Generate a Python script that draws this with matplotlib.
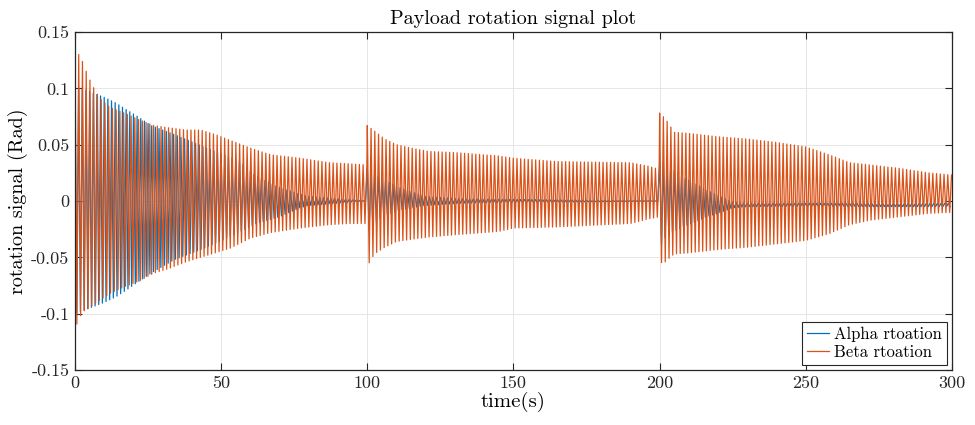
import numpy as np
import matplotlib
matplotlib.use('Agg')
import matplotlib.pyplot as plt

plt.rcParams['font.family'] = 'serif'
plt.rcParams['font.serif'] = ['cmr10']
plt.rcParams['mathtext.fontset'] = 'cm'
plt.rcParams['axes.unicode_minus'] = False

period_alpha = 1.25
period_beta = 1.28

# envelopes, one list per excitation segment
alpha_times = [
    [0, 3, 6, 10, 14, 17, 22, 26, 34, 45, 56, 62, 70, 77, 80, 90, 100],
    [100, 102, 104.5, 111, 120, 132, 200],
    [200, 202, 204, 208, 212, 216, 220, 225, 230, 300],
]
alpha_upper = [
    [0.100, 0.099, 0.096, 0.092, 0.087, 0.082, 0.074, 0.067, 0.059, 0.047, 0.036, 0.022, 0.012, 0.006, 0.004, 0.002, 0.0],
    [0.029, 0.025, 0.021, 0.012, 0.004, 0.002, 0.0],
    [0.035, 0.034, 0.029, 0.021, 0.016, 0.010, 0.005, -0.001, -0.002, -0.002],
]
alpha_lower = [
    [-0.100, -0.097, -0.094, -0.090, -0.085, -0.080, -0.071, -0.064, -0.052, -0.041, -0.028, -0.020, -0.014, -0.006, -0.004, -0.002, 0.0],
    [-0.028, -0.022, -0.015, -0.008, -0.004, -0.002, 0.0],
    [-0.041, -0.032, -0.028, -0.023, -0.019, -0.014, -0.011, -0.006, -0.005, -0.005],
]

beta_times = [
    [0, 1.7, 2.4, 3.4, 4.8, 6.3, 8.5, 12, 17, 22, 27, 32, 38, 43, 48, 53, 60, 67, 77, 87, 94, 100],
    [100, 101, 103, 106, 110, 115, 121, 130, 140, 145, 150, 165, 190, 196, 200],
    [200, 202, 203.5, 205, 210, 220, 230, 240, 250, 258, 265, 272, 282, 292, 300],
]
beta_upper = [
    [0.136, 0.128, 0.125, 0.118, 0.109, 0.101, 0.091, 0.083, 0.078, 0.072, 0.067, 0.065, 0.063, 0.063, 0.059, 0.054, 0.047, 0.041, 0.038, 0.034, 0.033, 0.032],
    [0.067, 0.065, 0.061, 0.055, 0.050, 0.047, 0.044, 0.043, 0.041, 0.040, 0.038, 0.035, 0.034, 0.031, 0.028],
    [0.078, 0.073, 0.067, 0.061, 0.060, 0.057, 0.055, 0.052, 0.048, 0.041, 0.034, 0.032, 0.029, 0.025, 0.023],
]
beta_lower = [
    [-0.113, -0.103, -0.099, -0.097, -0.095, -0.092, -0.088, -0.082, -0.076, -0.071, -0.064, -0.060, -0.054, -0.050, -0.046, -0.042, -0.033, -0.028, -0.024, -0.021, -0.020, -0.020],
    [-0.060, -0.052, -0.046, -0.041, -0.036, -0.034, -0.032, -0.030, -0.028, -0.027, -0.024, -0.023, -0.020, -0.016, -0.014],
    [-0.055, -0.054, -0.050, -0.047, -0.046, -0.043, -0.041, -0.038, -0.035, -0.029, -0.021, -0.017, -0.014, -0.011, -0.010],
]

x_ticks = [0, 50, 100, 150, 200, 250, 300]
y_ticks = [-0.15, -0.1, -0.05, 0, 0.05, 0.1, 0.15]
y_tick_labels = ['-0.15', '-0.1', '-0.05', '0', '0.05', '0.1', '0.15']


def zigzag(times_list, upper_list, lower_list, period):
    # alternate between upper and lower envelope every half period
    ts, ys = [], []
    for times, upper, lower in zip(times_list, upper_list, lower_list):
        t = np.arange(times[0], times[-1], period / 2)
        up = np.interp(t, times, upper)
        lo = np.interp(t, times, lower)
        k = np.arange(len(t))
        ts.append(t)
        ys.append(np.where(k % 2 == 0, up, lo))
    return np.concatenate(ts), np.concatenate(ys)


t_a, y_a = zigzag(alpha_times, alpha_upper, alpha_lower, period_alpha)
t_b, y_b = zigzag(beta_times, beta_upper, beta_lower, period_beta)

fig = plt.figure(figsize=(9.75, 4.25), dpi=100)
ax = fig.add_axes([0.0769, 0.1294, 0.8995, 0.7953])

ax.plot(t_a, y_a, color='#0072BD', lw=0.9, label='Alpha rtoation')
ax.plot(t_b, y_b, color='#D95319', lw=0.9, label='Beta rtoation')

ax.set_xlim(0, 300)
ax.set_ylim(-0.15, 0.15)
ax.set_xticks(x_ticks)
ax.set_xticklabels([str(v) for v in x_ticks])
ax.set_yticks(y_ticks)
ax.set_yticklabels(y_tick_labels)
ax.tick_params(direction='in', top=True, right=True, length=5, width=0.8,
               labelsize=13, colors='#262626', pad=4)
for s in ax.spines.values():
    s.set_color('#262626')
    s.set_linewidth(0.9)
ax.grid(True, color='#e2e2e2', lw=0.6)
ax.set_axisbelow(True)

ax.set_title('Payload rotation signal plot', fontsize=14.5, pad=6)
ax.set_xlabel('time(s)', fontsize=15, labelpad=1)
ax.set_ylabel('rotation signal (Rad)', fontsize=14.5, labelpad=2)

leg = ax.legend(loc='lower right', fontsize=12, handlelength=1.3, handletextpad=0.3,
                borderpad=0.3, labelspacing=0.15, fancybox=False, framealpha=1,
                edgecolor='#262626', borderaxespad=0.3)
leg.get_frame().set_linewidth(0.8)

fig.savefig('out.png', dpi=100)
